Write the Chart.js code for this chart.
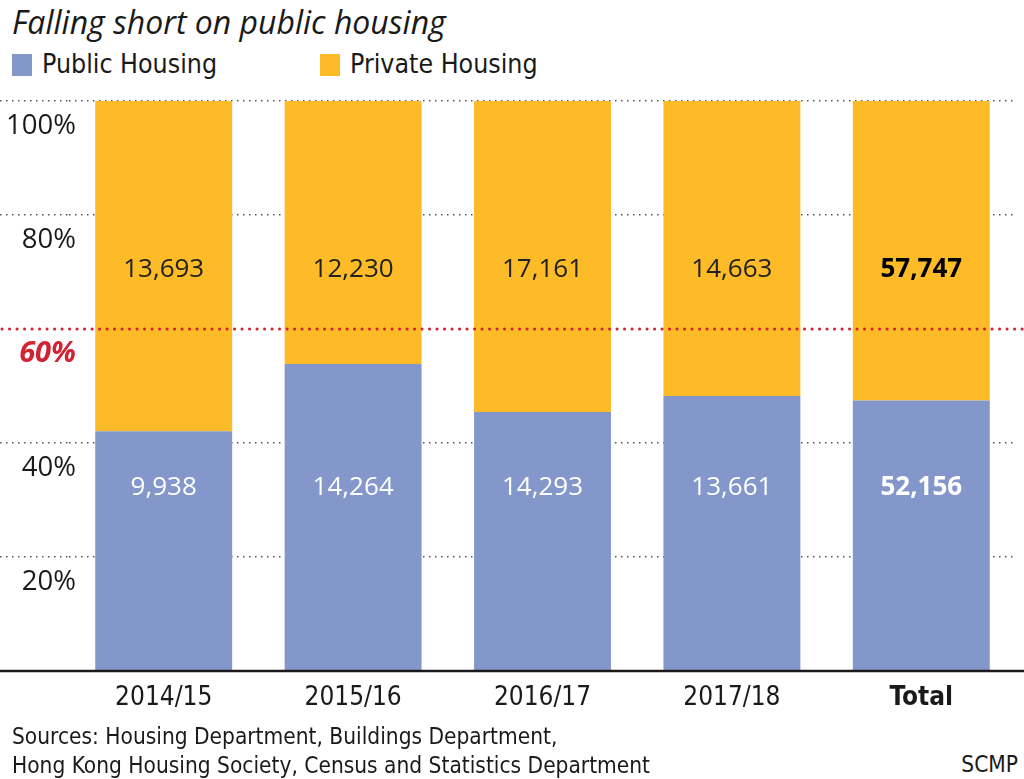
<!DOCTYPE html>
<html>
<head>
<meta charset="utf-8">
<script src="https://cdn.jsdelivr.net/npm/chart.js@4.4.1/dist/chart.umd.min.js"></script>
<style>
  body { margin: 0; background: #fff; width: 1024px; height: 779px; overflow: hidden; position: relative; font-family: 'DejaVu Sans Condensed', sans-serif; color: #1a1a1a; }
  #title { position: absolute; left: 12px; top: 0px; font-family: 'Open Sans', sans-serif; font-style: italic; font-size: 32px; }
  #legend { position: absolute; left: 12px; top: 48px; font-size: 26.5px; }
  .item { position: absolute; top: 0; white-space: nowrap; }
  .box { display: inline-block; width: 20px; height: 22px; vertical-align: -3px; margin-right: 10px; }
  #chart { position: absolute; left: 0; top: 90px; }
  #sources { position: absolute; left: 12px; top: 722px; font-size: 22.5px; line-height: 29px; }
  #scmp { position: absolute; right: 6px; top: 751px; font-size: 22.5px; }
</style>
</head>
<body>
<div id="title">Falling short on public housing</div>
<div id="legend">
  <span class="item" style="left:0"><span class="box" style="background:rgb(132,151,203)"></span>Public Housing</span>
  <span class="item" style="left:308px"><span class="box" style="background:rgb(253,187,39)"></span>Private Housing</span>
</div>
<canvas id="chart" width="1024" height="640"></canvas>
<div id="sources">Sources: Housing Department, Buildings Department,<br>Hong Kong Housing Society, Census and Statistics Department</div>
<div id="scmp">SCMP</div>
<script>
const categories = ['2014/15', '2015/16', '2016/17', '2017/18', 'Total'];
const publicUnits = [9938, 14264, 14293, 13661, 52156];
const privateUnits = [13693, 12230, 17161, 14663, 57747];
const yTicks = [0, 20, 40, 60, 80, 100];
const targetLine = 60;

let blue = 'rgb(132,151,203)';
let yellow = 'rgb(253,187,39)';
let red = 'rgb(208,35,52)';
let narrow = "'DejaVu Sans Condensed', sans-serif";

const publicPct = publicUnits.map((v, i) => v / (v + privateUnits[i]) * 100);
const privatePct = privateUnits.map((v, i) => v / (publicUnits[i] + v) * 100);

const tickVal = c => (c && c.tick) ? c.tick.value : null;
const hidden = c => tickVal(c) === 0 || tickVal(c) === targetLine;

// numbers sit at a fixed height in each band, not centred in the segment
const labelPlugin = {
    id: 'labels',
    afterDatasetsDraw(chart) {
        const ctx = chart.ctx;
        const y = chart.scales.y;

        // red 60% target line over the bars
        ctx.save();
        ctx.strokeStyle = red;
        ctx.lineWidth = 3;
        ctx.lineCap = 'round';
        ctx.setLineDash([0.1, 7.4]);
        ctx.beginPath();
        ctx.moveTo(2, y.getPixelForValue(targetLine));
        ctx.lineTo(chart.width, y.getPixelForValue(targetLine));
        ctx.stroke();

        // baseline
        ctx.setLineDash([]);
        ctx.lineCap = 'butt';
        ctx.strokeStyle = '#1a1a1a';
        ctx.lineWidth = 2.5;
        ctx.beginPath();
        ctx.moveTo(0, y.getPixelForValue(0));
        ctx.lineTo(chart.width, y.getPixelForValue(0));
        ctx.stroke();

        ctx.textAlign = 'center';
        ctx.textBaseline = 'middle';
        [publicUnits, privateUnits].forEach((arr, d) => {
            const meta = chart.getDatasetMeta(d);
            meta.data.forEach((bar, i) => {
                const last = i === arr.length - 1;
                ctx.font = (last ? 'bold ' : '') + "26px 'Open Sans', sans-serif";
                ctx.fillStyle = d === 0 ? '#fff' : (last ? '#000' : '#222');
                ctx.fillText(arr[i].toLocaleString('en-US'), bar.x, y.getPixelForValue(d === 0 ? 32.1 : 70.4));
            });
        });
        ctx.restore();
    }
};

const ctx = document.getElementById('chart').getContext('2d');

const myChart = new Chart(ctx, {
    type: 'bar',
    data: {
        labels: categories,
        datasets: [{
            label: 'Public Housing',
            data: publicPct,
            backgroundColor: blue,
        }, {
            label: 'Private Housing',
            data: privatePct,
            backgroundColor: yellow,
        }]
    },
    options: {
        responsive: false,
        animation: false,
        categoryPercentage: 1,
        barPercentage: 0.723,
        layout: {
            padding: { top: 11, right: 8, left: 0, bottom: 0 }
        },
        plugins: {
            legend: { display: false },
            tooltip: { enabled: false },
        },
        scales: {
            x: {
                stacked: true,
                grid: { display: false },
                border: { display: false },
                ticks: {
                    padding: 4,
                    color: '#1a1a1a',
                    font: c => ({
                        family: narrow,
                        size: 26,
                        weight: (c && c.index === categories.length - 1) ? 'bold' : 'normal',
                    }),
                },
                afterFit(scale) { scale.height = 59; },
            },
            y: {
                stacked: true,
                min: 0,
                max: 100,
                afterBuildTicks(scale) { scale.ticks = yTicks.map(v => ({ value: v })); },
                afterFit(scale) { scale.width = 69; },
                border: { display: false, dash: [1.5, 4.5] },
                grid: {
                    color: c => hidden(c) ? 'rgba(0,0,0,0)' : '#555',
                    lineWidth: 1.5,
                    drawTicks: true,
                    tickLength: 69,
                    tickColor: c => hidden(c) ? 'rgba(0,0,0,0)' : '#555',
                    tickWidth: 1.5,
                    tickBorderDash: [1.5, 4.5],
                },
                ticks: {
                    // mirrored so the labels are not clipped to the axis box
                    mirror: true,
                    crossAlign: 'far',
                    padding: -63,
                    labelOffset: 25,
                    color: c => tickVal(c) === targetLine ? red : '#1a1a1a',
                    callback: v => v === 0 ? '' : v + '%',
                    font: c => tickVal(c) === targetLine
                        ? { family: "'Open Sans', sans-serif", size: 29, weight: 'bold', style: 'italic' }
                        : { family: "'Open Sans', sans-serif", size: 27.5 },
                },
            }
        }
    },
    plugins: [labelPlugin]
});
</script>
</body>
</html>
